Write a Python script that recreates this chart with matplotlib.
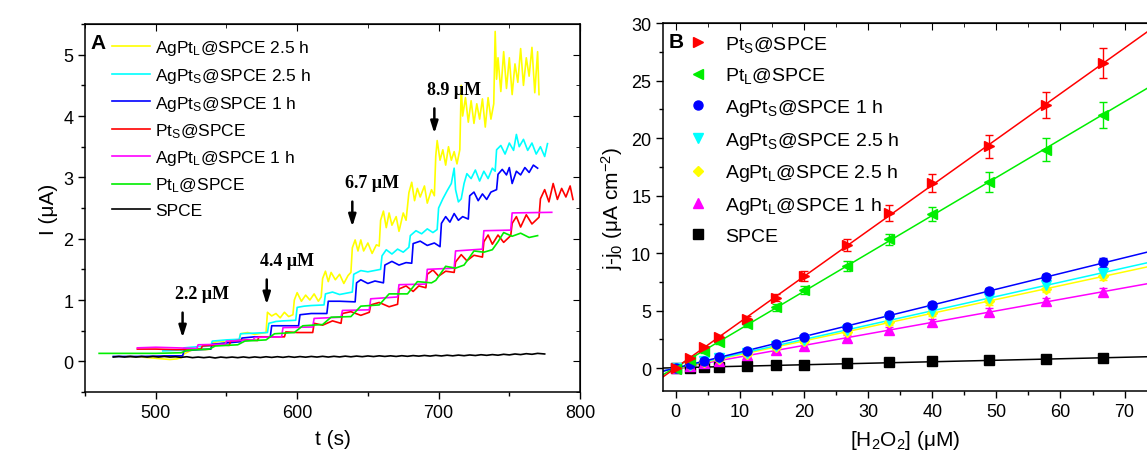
import numpy as np
import matplotlib
matplotlib.use("Agg")
import matplotlib.pyplot as plt
from matplotlib.lines import Line2D
from matplotlib.ticker import MultipleLocator

plt.rcParams['font.family'] = ['Liberation Sans', 'DejaVu Sans']
plt.rcParams['mathtext.fontset'] = 'custom'
plt.rcParams['mathtext.rm'] = 'Liberation Sans'
plt.rcParams['mathtext.it'] = 'Liberation Sans:italic'
plt.rcParams['mathtext.bf'] = 'Liberation Sans:bold'

# ---- panel A: amperometric traces, t (s) / I (uA) ----
t_agptl25 = [480, 490, 500, 505, 510, 515, 518, 520, 525, 530, 535, 539, 540, 545, 550, 555, 559,
             560, 565, 570, 575, 578, 579, 582, 585, 588, 591, 594, 597, 598, 600, 603, 606, 609,
             612, 615, 617, 618, 620, 622, 624, 627, 630, 633, 636, 638, 639, 641, 643, 645, 647,
             650, 653, 656, 658, 659, 661, 663, 665, 667, 670, 672, 675, 677, 679, 681, 683, 685,
             687, 690, 692, 695, 697, 698, 699, 701, 703, 705, 707, 709, 711, 713, 715, 716, 717,
             719, 721, 723, 725, 727, 729, 731, 733, 735, 737, 739, 740, 741, 742, 744, 746, 748,
             750, 752, 754, 756, 758, 760, 762, 764, 766, 768, 770, 771]
i_agptl25 = [0.08, 0.07, 0.05, 0.04, 0.03, 0.04, 0.06, 0.12, 0.18, 0.2, 0.19, 0.2, 0.3, 0.33, 0.31,
             0.34, 0.33, 0.45, 0.47, 0.44, 0.46, 0.47, 0.8, 0.74, 0.78, 0.71, 0.8, 0.73, 0.76, 1.0,
             1.12, 0.98, 1.08, 1.0, 1.1, 0.98, 1.05, 1.35, 1.47, 1.3, 1.45, 1.33, 1.42, 1.27, 1.4,
             1.45, 1.85, 1.98, 1.8, 1.98, 1.8, 1.93, 1.76, 1.9, 1.88, 2.3, 2.45, 2.18, 2.42, 2.22,
             2.36, 2.12, 2.42, 2.3, 2.75, 2.92, 2.62, 2.82, 2.68, 2.86, 2.58, 2.8, 2.7, 3.35, 3.6,
             3.28, 3.45, 3.2, 3.5, 3.28, 3.42, 3.22, 3.45, 4.5, 4.0, 4.3, 3.9, 4.25, 3.88, 4.2, 3.95,
             4.28, 3.82, 4.3, 3.95, 4.2, 5.38, 4.6, 4.95, 4.4, 5.05, 4.45, 4.95, 4.35, 4.85, 4.55,
             5.1, 4.5, 4.95, 4.65, 5.12, 4.38, 5.05, 4.35]

t_agpts25 = [505, 515, 519, 520, 530, 539, 540, 550, 559, 560, 570, 579, 580, 585, 590, 599, 600,
             605, 610, 619, 620, 625, 630, 639, 640, 645, 650, 659, 660, 663, 667, 671, 675, 679,
             680, 684, 688, 692, 696, 699, 700, 703, 706, 709, 711, 712, 714, 716, 718, 720, 723,
             726, 729, 732, 735, 738, 740, 741, 744, 747, 750, 753, 755, 757, 760, 763, 766, 769,
             772, 775, 777]
i_agpts25 = [0.17, 0.18, 0.18, 0.22, 0.24, 0.25, 0.33, 0.35, 0.36, 0.45, 0.46, 0.47, 0.62, 0.65,
             0.66, 0.67, 0.88, 0.9, 0.91, 0.92, 1.1, 1.13, 1.09, 1.13, 1.42, 1.48, 1.46, 1.5, 1.72,
             1.82, 1.75, 1.83, 1.78, 1.86, 2.05, 2.13, 2.08, 2.16, 2.1, 2.15, 2.5, 2.65, 2.78, 2.9,
             3.15, 2.8, 2.6, 2.65, 2.9, 3.06, 2.98, 3.12, 2.94, 3.1, 2.98, 3.15, 3.1, 3.45, 3.52,
             3.38, 3.56, 3.44, 3.7, 3.5, 3.62, 3.44, 3.56, 3.38, 3.5, 3.34, 3.55]

t_agpts1 = [470, 490, 510, 519, 520, 530, 539, 540, 550, 560, 561, 570, 581, 582, 590, 601, 602,
            610, 621, 622, 630, 641, 642, 645, 650, 655, 661, 662, 667, 672, 677, 681, 682, 687,
            692, 697, 701, 702, 705, 708, 711, 714, 717, 721, 722, 725, 728, 731, 734, 737, 741,
            742, 745, 748, 750, 752, 755, 758, 761, 764, 767, 770]
i_agpts1 = [0.08, 0.08, 0.09, 0.09, 0.17, 0.19, 0.2, 0.28, 0.3, 0.32, 0.38, 0.4, 0.4, 0.58, 0.58,
            0.58, 0.76, 0.78, 0.78, 0.98, 0.98, 0.97, 1.28, 1.33, 1.27, 1.31, 1.28, 1.57, 1.63,
            1.57, 1.61, 1.6, 1.92, 1.96, 1.89, 1.93, 1.87, 2.25, 2.36, 2.27, 2.41, 2.3, 2.36, 2.32,
            2.7, 2.76, 2.62, 2.73, 2.64, 2.76, 2.8, 3.05, 3.13, 3.04, 3.16, 2.9, 3.1, 3.04, 3.16,
            3.08, 3.2, 3.15]

t_pts = [487, 500, 515, 532, 533, 545, 552, 553, 565, 572, 573, 585, 591, 592, 600, 611, 612, 618,
         625, 631, 632, 638, 645, 651, 652, 658, 665, 671, 672, 677, 682, 686, 691, 692, 696, 700,
         705, 711, 712, 716, 720, 725, 731, 732, 735, 738, 742, 746, 751, 752, 755, 758, 762, 766,
         771, 772, 775, 778, 781, 784, 787, 790, 793, 795]
i_pts = [0.2, 0.2, 0.19, 0.2, 0.25, 0.27, 0.26, 0.33, 0.35, 0.34, 0.4, 0.4, 0.4, 0.48, 0.47, 0.47,
         0.62, 0.59, 0.66, 0.62, 0.78, 0.81, 0.75, 0.8, 0.92, 0.96, 0.89, 0.93, 1.18, 1.23, 1.14,
         1.23, 1.2, 1.42, 1.49, 1.39, 1.47, 1.45, 1.62, 1.74, 1.64, 1.73, 1.7, 1.95, 2.06, 1.91,
         2.06, 1.94, 2.05, 2.25, 2.36, 2.19, 2.39, 2.24, 2.35, 2.65, 2.8, 2.6, 2.9, 2.64, 2.82,
         2.68, 2.86, 2.64]

t_agptl1 = [487, 500, 515, 529, 530, 549, 550, 569, 570, 589, 590, 611, 612, 631, 632, 651, 652,
            671, 672, 691, 692, 711, 712, 731, 732, 751, 752, 780]
i_agptl1 = [0.22, 0.23, 0.22, 0.21, 0.27, 0.28, 0.33, 0.35, 0.39, 0.4, 0.55, 0.56, 0.7, 0.72, 0.83,
            0.84, 1.02, 1.05, 1.25, 1.26, 1.5, 1.52, 1.8, 1.83, 2.13, 2.14, 2.42, 2.43]

t_ptl = [460, 480, 500, 518, 522, 538, 542, 558, 563, 578, 584, 598, 604, 618, 624, 638, 645, 658,
         665, 678, 685, 695, 698, 705, 712, 718, 725, 732, 738, 742, 746, 752, 758, 764, 770]
i_ptl = [0.13, 0.13, 0.13, 0.14, 0.18, 0.2, 0.25, 0.27, 0.33, 0.35, 0.45, 0.47, 0.58, 0.6, 0.72,
         0.73, 0.9, 0.92, 1.1, 1.1, 1.3, 1.28, 1.32, 1.55, 1.52, 1.57, 1.8, 1.78, 1.82, 1.95, 2.1,
         2.04, 2.09, 2.02, 2.05]

t_spce = [470, 474, 478, 482, 486, 490, 494, 498, 502, 506, 510, 514, 518, 522, 526, 530, 534,
          538, 542, 546, 550, 554, 558, 562, 566, 570, 574, 578, 582, 586, 590, 594, 598, 602,
          606, 610, 614, 618, 622, 626, 630, 634, 638, 642, 646, 650, 654, 658, 662, 666, 670,
          674, 678, 682, 686, 690, 694, 698, 702, 706, 710, 714, 718, 722, 726, 730, 734, 738,
          742, 746, 750, 754, 758, 762, 766, 770, 775]
i_spce = [0.07, 0.08, 0.07, 0.08, 0.07, 0.08, 0.07, 0.08, 0.07, 0.08, 0.07, 0.075, 0.065, 0.075,
          0.06, 0.07, 0.06, 0.07, 0.055, 0.07, 0.06, 0.07, 0.06, 0.072, 0.06, 0.072, 0.062, 0.075,
          0.064, 0.076, 0.065, 0.078, 0.066, 0.078, 0.068, 0.08, 0.07, 0.082, 0.07, 0.082, 0.072,
          0.085, 0.074, 0.086, 0.076, 0.088, 0.078, 0.09, 0.08, 0.09, 0.08, 0.092, 0.082, 0.094,
          0.085, 0.096, 0.086, 0.098, 0.088, 0.1, 0.09, 0.102, 0.092, 0.104, 0.095, 0.108, 0.098,
          0.11, 0.1, 0.115, 0.105, 0.12, 0.11, 0.125, 0.115, 0.13, 0.12]

arrow_t = [519, 578.5, 639, 697]
arrow_tip = [0.34, 0.88, 2.15, 3.67]
arrow_top = [0.84, 1.38, 2.65, 4.17]
arrow_text = ['2.2 \u03bcM', '4.4 \u03bcM', '6.7 \u03bcM', '8.9 \u03bcM']

# ---- panel B: calibration, [H2O2] (uM) / j-j0 ----
conc = [0, 2.2, 4.4, 6.7, 11.1, 15.6, 20, 26.7, 33.3, 40, 48.9, 57.8, 66.7]
j_pts = [0, 0.9, 1.8, 2.7, 4.3, 6.1, 8.0, 10.7, 13.5, 16.1, 19.3, 22.9, 26.5]
e_pts = [0.15, 0.15, 0.15, 0.2, 0.25, 0.3, 0.4, 0.55, 0.68, 0.8, 1.0, 1.13, 1.3]
j_ptl = [-0.1, 0.7, 1.5, 2.3, 3.8, 5.3, 6.8, 8.9, 11.2, 13.4, 16.2, 19.0, 22.0]
e_ptl = [0.15, 0.15, 0.15, 0.2, 0.25, 0.3, 0.35, 0.45, 0.5, 0.65, 0.85, 0.97, 1.1]
j_agpts1 = [0, 0.35, 0.65, 0.95, 1.5, 2.1, 2.7, 3.6, 4.6, 5.5, 6.7, 7.9, 9.2]
e_agpts1 = [0.15, 0.15, 0.15, 0.15, 0.2, 0.2, 0.2, 0.2, 0.25, 0.25, 0.3, 0.3, 0.4]
j_agpts25 = [0, 0.3, 0.6, 0.85, 1.35, 1.9, 2.45, 3.3, 4.2, 5.0, 6.1, 7.2, 8.3]
e_agpts25 = [0.15, 0.15, 0.15, 0.15, 0.2, 0.2, 0.2, 0.2, 0.25, 0.25, 0.3, 0.3, 0.35]
j_agptl25 = [0, 0.25, 0.5, 0.75, 1.25, 1.8, 2.35, 3.15, 4.0, 4.8, 5.8, 6.9, 8.0]
e_agptl25 = [0.15, 0.15, 0.15, 0.15, 0.2, 0.2, 0.2, 0.2, 0.25, 0.25, 0.3, 0.3, 0.35]
j_agptl1 = [0, 0.2, 0.4, 0.6, 1.1, 1.55, 1.95, 2.6, 3.3, 4.0, 4.9, 5.8, 6.6]
e_agptl1 = [0.15, 0.15, 0.15, 0.2, 0.25, 0.25, 0.25, 0.25, 0.3, 0.3, 0.3, 0.3, 0.35]
j_spce = [0, 0.05, 0.08, 0.1, 0.15, 0.25, 0.3, 0.42, 0.5, 0.6, 0.68, 0.75, 0.85]
e_spce = [0.05] * 13

lab_agptl25 = 'AgPt$_\\mathregular{L}$@SPCE 2.5 h'
lab_agpts25 = 'AgPt$_\\mathregular{S}$@SPCE 2.5 h'
lab_agpts1 = 'AgPt$_\\mathregular{S}$@SPCE 1 h'
lab_pts = 'Pt$_\\mathregular{S}$@SPCE'
lab_agptl1 = 'AgPt$_\\mathregular{L}$@SPCE 1 h'
lab_ptl = 'Pt$_\\mathregular{L}$@SPCE'
lab_spce = 'SPCE'

c_yellow = '#ffff00'
c_cyan = '#00ffff'
c_blue = '#0000ff'
c_red = '#ff0000'
c_magenta = '#ff00ff'
c_green = '#00ee00'
c_black = '#000000'

fig = plt.figure(figsize=(11.47, 4.64), dpi=100)
axA = fig.add_axes([0.0741, 0.153, 0.4316, 0.793])
axB = fig.add_axes([0.578, 0.155, 0.422, 0.793])

# panel A
tracesA = [
    (t_agptl25, i_agptl25, c_yellow, lab_agptl25),
    (t_agpts25, i_agpts25, c_cyan, lab_agpts25),
    (t_agpts1, i_agpts1, c_blue, lab_agpts1),
    (t_pts, i_pts, c_red, lab_pts),
    (t_agptl1, i_agptl1, c_magenta, lab_agptl1),
    (t_ptl, i_ptl, c_green, lab_ptl),
    (t_spce, i_spce, c_black, lab_spce),
]
for t, i, c, lab in tracesA:
    axA.plot(t, i, color=c, lw=1.2, label=lab)

for t, tip, top, txt in zip(arrow_t, arrow_tip, arrow_top, arrow_text):
    axA.annotate('', xy=(t, tip), xytext=(t, top),
                 arrowprops=dict(arrowstyle='-|>,head_width=0.22,head_length=0.7',
                                 color='black', lw=1.8))
    axA.text(t + 14, top + 0.12, txt, ha='center', va='bottom',
             family='Liberation Serif', weight='bold', fontsize=13)

axA.set_xlim(450, 800)
axA.set_ylim(-0.5, 5.5)
axA.xaxis.set_major_locator(MultipleLocator(100))
axA.xaxis.set_minor_locator(MultipleLocator(50))
axA.yaxis.set_major_locator(MultipleLocator(1))
axA.yaxis.set_minor_locator(MultipleLocator(0.5))
axA.set_xlabel('t (s)', fontsize=15, labelpad=6)
axA.set_ylabel('I (\u03bcA)', fontsize=15, labelpad=4)
axA.text(0.012, 0.975, 'A', transform=axA.transAxes, fontsize=15, weight='bold',
         ha='left', va='top')
axA.legend(loc='upper left', bbox_to_anchor=(0.033, 0.99), frameon=False, fontsize=12.5,
           handlelength=2.2, handletextpad=0.3, labelspacing=0.5, borderaxespad=0.2)

# panel B
seriesB = [
    (j_pts, e_pts, c_red, '>', lab_pts),
    (j_ptl, e_ptl, c_green, '<', lab_ptl),
    (j_agpts1, e_agpts1, c_blue, 'o', lab_agpts1),
    (j_agpts25, e_agpts25, c_cyan, 'v', lab_agpts25),
    (j_agptl25, e_agptl25, c_yellow, 'D', lab_agptl25),
    (j_agptl1, e_agptl1, c_magenta, '^', lab_agptl1),
    (j_spce, e_spce, c_black, 's', lab_spce),
]
xfit = np.array([-2.0, 80.0])
for j, e, c, m, lab in reversed(seriesB):
    k, b = np.polyfit(conc, j, 1)
    axB.plot(xfit, k * xfit + b, color=c, lw=1.1, zorder=2)
    axB.errorbar(conc, j, yerr=e, fmt=m, color=c, ms=6.5 if m != 'D' else 5.5,
                 elinewidth=1, capsize=3, capthick=1, zorder=3)
handles = [Line2D([], [], ls='none', marker=m, color=c, ms=6.5 if m != 'D' else 5.5, label=lab)
           for j, e, c, m, lab in seriesB]

axB.set_xlim(-2, 73.5)
axB.set_ylim(-2, 30)
axB.xaxis.set_major_locator(MultipleLocator(10))
axB.xaxis.set_minor_locator(MultipleLocator(5))
axB.yaxis.set_major_locator(MultipleLocator(5))
axB.yaxis.set_minor_locator(MultipleLocator(2.5))
axB.spines['right'].set_visible(False)
axB.set_xlabel('[H$_\\mathregular{2}$O$_\\mathregular{2}$] (\u03bcM)', fontsize=15, labelpad=6)
axB.set_ylabel('j-j$_\\mathregular{0}$ (\u03bcA cm$^\\mathregular{-2}$)', fontsize=15, labelpad=4)
axB.text(0.012, 0.975, 'B', transform=axB.transAxes, fontsize=15, weight='bold',
         ha='left', va='top')
axB.legend(handles=handles, loc='upper left', bbox_to_anchor=(0.028, 1.003), frameon=False,
           fontsize=14, handlelength=1.0, handletextpad=0.9, labelspacing=0.6,
           borderaxespad=0.2)

for ax in (axA, axB):
    ax.tick_params(which='both', labelsize=13, width=1)
    ax.tick_params(which='major', direction='out', length=5)
    ax.tick_params(which='minor', direction='out', length=3)
    for s in ax.spines.values():
        s.set_linewidth(1.1)
    top = ax.secondary_xaxis('top')
    top.xaxis.set_major_locator(ax.xaxis.get_major_locator())
    top.xaxis.set_minor_locator(ax.xaxis.get_minor_locator())
    top.tick_params(which='major', direction='in', length=5, labeltop=False)
    top.tick_params(which='minor', direction='in', length=3)

right = axA.secondary_yaxis('right')
right.yaxis.set_major_locator(MultipleLocator(1))
right.yaxis.set_minor_locator(MultipleLocator(0.5))
right.tick_params(which='major', direction='in', length=5, labelright=False)
right.tick_params(which='minor', direction='in', length=3)

fig.savefig('out.png', dpi=100)
